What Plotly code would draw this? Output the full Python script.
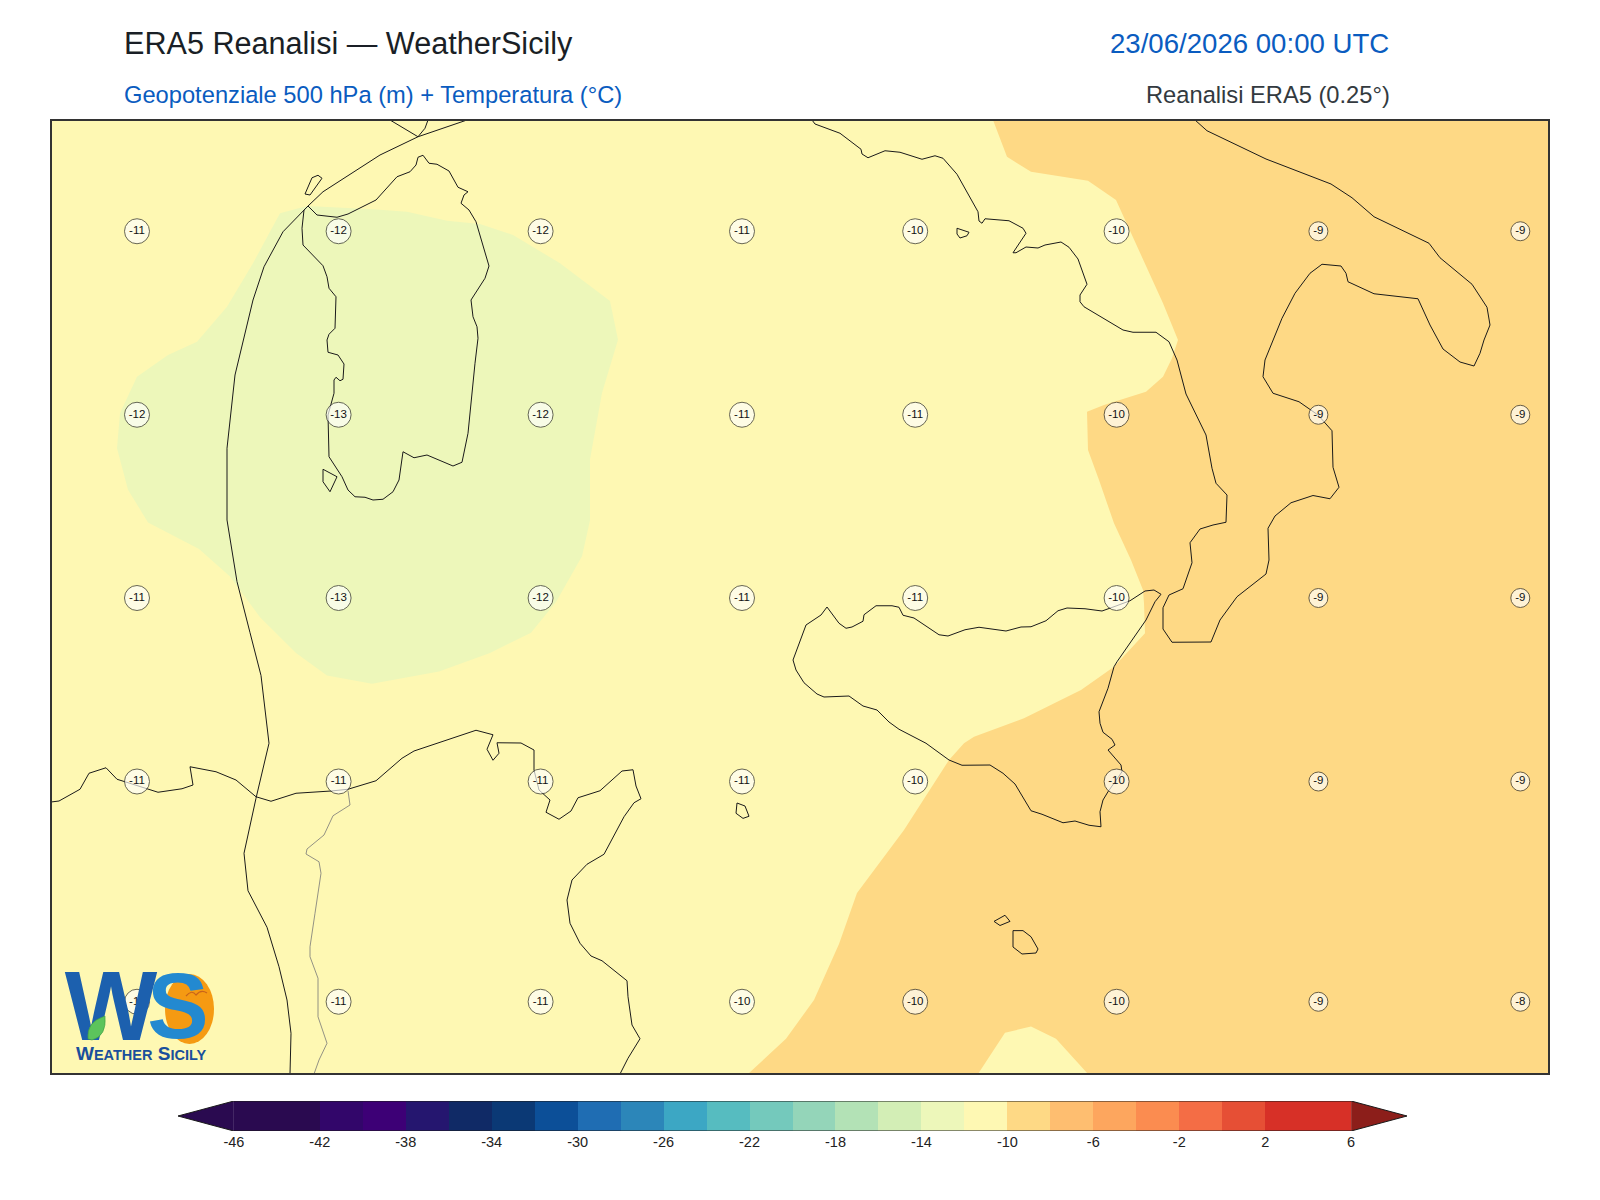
import plotly.graph_objects as go

W, H = 1600, 1200

# map window
lon_min, lon_max = 5.02, 19.98
lat_min, lat_max = 34.416, 42.032

# temperature labels at 500 hPa
label_lons = [5.87, 7.886, 9.906, 11.92, 13.652, 15.666, 17.684, 19.703]
label_lats = [41.15, 39.682, 38.216, 36.748, 34.986]
temps_row1 = [-11, -12, -12, -11, -10, -10, -9, -9]
temps_row2 = [-12, -13, -12, -11, -11, -10, -9, -9]
temps_row3 = [-11, -13, -12, -11, -11, -10, -9, -9]
temps_row4 = [-11, -11, -11, -11, -10, -10, -9, -9]
temps_row5 = [-11, -11, -11, -10, -10, -10, -9, -8]

# colorbar
cbar_levels = list(range(-46, 7, 2))
cbar_ticks = list(range(-46, 7, 4))
cbar_colors = ['#2a0a50', '#2a0a50', '#32066a', '#3d0076', '#25166f', '#102a66', '#0b3975',
               '#0c4f98', '#1f6db3', '#2c86b9', '#3ca7c4', '#56bcc0', '#74c9bc', '#94d5b9',
               '#b3e2b6', '#d3eeb6', '#edf7ba', '#fef8b3', '#fed985', '#febe70', '#fda65e',
               '#fb8c50', '#f46d45', '#e64f35', '#d73027', '#d73027']
cbar_under = '#2a0a50'
cbar_over = '#8c1e1a'

# filled bands
band_14_12_lon = [7.3, 7.57, 8.23, 8.57, 8.97, 9.3, 9.63, 10.1, 10.6, 10.68, 10.52, 10.4, 10.4, 10.32,
                  10.06, 9.81, 9.4, 8.89, 8.22, 7.77, 7.46, 7.1, 6.8, 6.49, 5.98, 5.78, 5.67, 5.7,
                  5.87, 6.18, 6.47, 6.77, 7.03, 7.3]
band_14_12_lat = [41.294, 41.352, 41.326, 41.306, 41.234, 41.208, 41.12, 40.894, 40.592, 40.282, 39.857,
                  39.326, 38.837, 38.551, 38.184, 37.938, 37.776, 37.629, 37.53, 37.596, 37.776, 38.062,
                  38.388, 38.608, 38.821, 39.082, 39.414, 39.694, 39.986, 40.16, 40.266, 40.546, 40.894,
                  41.294]
band_10_8_lon = [14.43, 14.57, 14.81, 15.38, 15.66, 15.96, 16.13, 16.28, 16.22, 16.13, 15.96, 15.54, 15.37,
                 15.38, 15.49, 15.64, 15.81, 15.93, 15.94, 15.95, 15.64, 15.31, 14.98, 14.74, 14.24, 14.14,
                 13.99, 13.54, 13.07, 12.89, 12.64, 12.36, 11.98, 14.28, 14.55, 14.81, 15.06, 15.38, 19.99,
                 19.99, 14.43]
band_10_8_lat = [42.04, 41.746, 41.626, 41.554, 41.4, 40.866, 40.574, 40.28, 40.134, 39.986, 39.866, 39.76,
                 39.706, 39.4, 39.16, 38.814, 38.52, 38.28, 38.174, 37.934, 37.666, 37.48, 37.346, 37.254,
                 37.106, 37.054, 36.92, 36.36, 35.857, 35.449, 35.0, 34.69, 34.408, 34.408, 34.738, 34.788,
                 34.69, 34.408, 34.408, 42.04, 42.04]

# coastlines and borders
sardinia_lon = [7.58, 7.67, 7.87, 7.98, 8.26, 8.47, 8.6, 8.66, 8.68, 8.73, 8.79, 8.87, 8.99, 9.08, 9.18, 9.14,
                9.11, 9.19, 9.26, 9.39, 9.35, 9.21, 9.23, 9.27, 9.28, 9.25, 9.18, 9.12, 9.03, 8.77, 8.64, 8.53,
                8.49, 8.43, 8.33, 8.23, 8.15, 8.05, 7.98, 7.92, 7.79, 7.78, 7.84, 7.84, 7.86, 7.9, 7.93, 7.94,
                7.88, 7.78, 7.77, 7.79, 7.85, 7.86, 7.79, 7.77, 7.73, 7.63, 7.53, 7.52, 7.54, 7.58]
sardinia_lat = [41.352, 41.28, 41.262, 41.288, 41.4, 41.586, 41.626, 41.68, 41.742, 41.758, 41.694, 41.686,
                41.632, 41.502, 41.466, 41.44, 41.374, 41.32, 41.226, 40.872, 40.774, 40.6, 40.466, 40.386,
                40.294, 40.094, 39.534, 39.302, 39.272, 39.36, 39.338, 39.386, 39.16, 39.066, 39.006, 39.0,
                39.022, 39.026, 39.08, 39.186, 39.346, 39.68, 39.854, 39.96, 39.982, 39.954, 39.966, 40.088,
                40.16, 40.182, 40.28, 40.326, 40.374, 40.626, 40.694, 40.786, 40.874, 40.954, 41.04, 41.174,
                41.32, 41.352]
west_line_lon = [9.17, 8.68, 8.3, 7.73, 7.58, 7.33, 7.14, 7.03, 6.85, 6.77, 6.77, 6.87, 7.0, 7.11, 7.19, 7.06,
                 6.94, 6.98, 7.17, 7.29, 7.37, 7.41, 7.4]
west_line_lat = [42.04, 41.906, 41.76, 41.466, 41.352, 41.146, 40.866, 40.6, 40.0, 39.414, 38.84, 38.347,
                 37.939, 37.596, 37.054, 36.614, 36.174, 35.874, 35.582, 35.266, 35.0, 34.734, 34.408]
top_fork_lon = [8.4, 8.68, 8.75, 8.78]
top_fork_lat = [42.04, 41.906, 41.974, 42.04]
capraia_lon = [7.62, 7.68, 7.72, 7.6, 7.55, 7.62]
capraia_lat = [41.578, 41.598, 41.574, 41.44, 41.448, 41.578]
antioco_lon = [7.73, 7.87, 7.8, 7.73, 7.73]
antioco_lat = [39.246, 39.186, 39.066, 39.146, 39.246]
africa_lon = [5.01, 5.09, 5.3, 5.39, 5.56, 5.67, 5.75, 5.99, 6.08, 6.32, 6.43, 6.4, 6.66, 6.86, 7.06, 7.21, 7.46,
              7.81, 7.98, 8.26, 8.52, 8.64, 9.26, 9.43, 9.37, 9.43, 9.49, 9.47, 9.71, 9.84, 9.84, 9.89, 10.0,
              9.96, 10.09, 10.21, 10.28, 10.5, 10.72, 10.83, 10.86, 10.91, 10.84, 10.74, 10.54, 10.37, 10.22,
              10.17, 10.2, 10.3, 10.41, 10.52, 10.77, 10.78, 10.82, 10.9, 10.78, 10.7]
africa_lat = [36.584, 36.592, 36.686, 36.814, 36.858, 36.766, 36.746, 36.686, 36.662, 36.69, 36.72, 36.866,
              36.826, 36.76, 36.626, 36.59, 36.654, 36.672, 36.686, 36.754, 36.934, 36.992, 37.158, 37.122,
              37.006, 36.918, 36.974, 37.058, 37.056, 37.0, 36.84, 36.68, 36.6, 36.502, 36.446, 36.512, 36.618,
              36.674, 36.832, 36.842, 36.712, 36.61, 36.578, 36.466, 36.166, 36.086, 35.96, 35.8, 35.614, 35.454,
              35.352, 35.314, 35.154, 35.026, 34.8, 34.69, 34.534, 34.408]
inner_border_lon = [7.98, 8.0, 7.83, 7.74, 7.57, 7.56, 7.69, 7.71, 7.65, 7.6, 7.6, 7.68, 7.68, 7.77, 7.69, 7.64]
inner_border_lat = [36.674, 36.56, 36.474, 36.32, 36.208, 36.168, 36.106, 36.014, 35.694, 35.426, 35.346,
                    35.174, 34.866, 34.654, 34.52, 34.408]
pantelleria_lon = [11.87, 11.95, 11.99, 11.93, 11.86, 11.87]
pantelleria_lat = [36.576, 36.552, 36.47, 36.453, 36.494, 36.576]
gozo_lon = [14.44, 14.55, 14.6, 14.5, 14.44]
gozo_lat = [35.629, 35.678, 35.629, 35.596, 35.629]
malta_lon = [14.63, 14.73, 14.81, 14.88, 14.86, 14.72, 14.63, 14.63]
malta_lat = [35.555, 35.555, 35.506, 35.408, 35.376, 35.368, 35.424, 35.555]
ponza_lon = [14.07, 14.19, 14.17, 14.1, 14.07, 14.07]
ponza_lat = [41.174, 41.142, 41.114, 41.096, 41.128, 41.174]
italy_lon = [12.62, 12.65, 12.9, 13.11, 13.12, 13.18, 13.35, 13.5, 13.72, 13.85, 13.93, 14.07, 14.28, 14.29, 14.32,
             14.35, 14.59, 14.73, 14.76, 14.63, 14.66, 14.76, 14.88, 14.95, 15.11, 15.19, 15.28, 15.37, 15.3, 15.3,
             15.34, 15.73, 15.83, 16.06, 16.19, 16.27, 16.36, 16.56, 16.62, 16.66, 16.77, 16.76, 16.63, 16.5, 16.4,
             16.42, 16.33, 16.19, 16.13, 16.13, 16.22, 16.61, 16.7, 16.87, 17.16, 17.19, 17.18, 17.25, 17.41, 17.63,
             17.8, 17.89, 17.83, 17.82, 17.68, 17.49, 17.23, 17.13, 17.15, 17.32, 17.45, 17.6, 17.72, 17.91, 17.96,
             17.98, 18.24, 18.68, 18.8, 18.93, 19.1, 19.24, 19.3, 19.34, 19.4, 19.37, 19.22, 18.9, 18.79, 18.24,
             18.02, 17.81, 17.16, 16.57, 16.45]
italy_lat = [42.04, 42.008, 41.934, 41.806, 41.768, 41.738, 41.794, 41.782, 41.726, 41.754, 41.734, 41.606, 41.306,
             41.232, 41.214, 41.25, 41.234, 41.174, 41.134, 40.978, 40.978, 41.024, 41.016, 41.04, 41.064, 41.022,
             40.928, 40.726, 40.64, 40.586, 40.546, 40.36, 40.342, 40.342, 40.266, 40.12, 39.848, 39.52, 39.254,
             39.134, 39.04, 38.822, 38.8, 38.768, 38.658, 38.498, 38.29, 38.24, 38.138, 37.968, 37.862, 37.864,
             38.04, 38.226, 38.408, 38.52, 38.774, 38.872, 38.978, 39.036, 39.01, 39.102, 39.262, 39.554, 39.68,
             39.786, 39.854, 39.986, 40.12, 40.454, 40.654, 40.814, 40.886, 40.872, 40.814, 40.746, 40.65, 40.61,
             40.4, 40.208, 40.104, 40.072, 40.174, 40.28, 40.4, 40.542, 40.726, 40.938, 41.054, 41.266, 41.418,
             41.528, 41.728, 41.954, 42.04]
sicily_lon = [16.11, 16.04, 15.95, 15.8, 15.66, 15.52, 15.35, 15.17, 15.08, 14.96, 14.81, 14.71, 14.56, 14.29, 14.15,
              13.98, 13.89, 13.64, 13.53, 13.49, 13.42, 13.26, 13.14, 13.13, 13.02, 12.96, 12.89, 12.77, 12.71, 12.56,
              12.43, 12.46, 12.54, 12.67, 12.74, 12.99, 13.13, 13.27, 13.39, 13.49, 13.76, 13.99, 14.12, 14.4, 14.53,
              14.65, 14.81, 14.92, 15.13, 15.25, 15.39, 15.51, 15.5, 15.53, 15.58, 15.72, 15.71, 15.58, 15.65, 15.62,
              15.53, 15.5, 15.49, 15.58, 15.64, 15.67, 15.96, 16.05, 16.11]
sicily_lat = [38.246, 38.28, 38.272, 38.194, 38.152, 38.112, 38.13, 38.136, 38.114, 38.034, 37.986, 37.984, 37.952,
              37.982, 37.962, 37.912, 37.922, 38.056, 38.078, 38.142, 38.154, 38.154, 38.082, 38.03, 37.984, 37.974,
              38.014, 38.144, 38.08, 38.0, 37.72, 37.64, 37.538, 37.448, 37.424, 37.432, 37.352, 37.32, 37.224,
              37.166, 37.054, 36.92, 36.878, 36.88, 36.814, 36.728, 36.514, 36.486, 36.418, 36.432, 36.398, 36.386,
              36.506, 36.6, 36.666, 36.826, 36.88, 37.0, 37.04, 37.086, 37.142, 37.214, 37.306, 37.494, 37.666,
              37.706, 38.04, 38.186, 38.246]

coast_lines = [
    (sardinia_lon, sardinia_lat), (west_line_lon, west_line_lat), (top_fork_lon, top_fork_lat),
    (capraia_lon, capraia_lat), (antioco_lon, antioco_lat), (africa_lon, africa_lat),
    (pantelleria_lon, pantelleria_lat), (gozo_lon, gozo_lat), (malta_lon, malta_lat),
    (ponza_lon, ponza_lat), (italy_lon, italy_lat), (sicily_lon, sicily_lat),
]


def px(x):
    return x / W


def py(y):
    return 1 - y / H


fig = go.Figure()

# Bands on top of the pale yellow background
fig.add_trace(go.Scatter(x=band_14_12_lon, y=band_14_12_lat, mode='lines', fill='toself',
                         fillcolor='#edf7ba', line=dict(width=0), hoverinfo='skip'))
fig.add_trace(go.Scatter(x=band_10_8_lon, y=band_10_8_lat, mode='lines', fill='toself',
                         fillcolor='#fed985', line=dict(width=0), hoverinfo='skip'))

# Coasts
for lons, lats in coast_lines:
    fig.add_trace(go.Scatter(x=lons, y=lats, mode='lines', line=dict(color='#1a1a1a', width=1)))
fig.add_trace(go.Scatter(x=inner_border_lon, y=inner_border_lat, mode='lines',
                         line=dict(color='#777777', width=0.8)))

# Temperature circles
rows = [temps_row1, temps_row2, temps_row3, temps_row4, temps_row5]
for lat, row in zip(label_lats, rows):
    fig.add_trace(go.Scatter(
        x=label_lons,
        y=[lat] * len(row),
        mode='markers+text',
        text=[str(t) for t in row],
        textposition='middle center',
        textfont=dict(family='Liberation Sans', size=11.5, color='#111111'),
        marker=dict(size=[25 if t <= -10 else 19 for t in row],
                    color='rgba(255,255,255,0.94)', line=dict(color='#2a2a2a', width=1)),
    ))

# Logo letters sit over the map as plain text
fig.add_trace(go.Scatter(x=[5.61], y=[34.879], mode='text', text=['<b>W</b>'], textposition='middle center',
                         textfont=dict(family='Liberation Sans', size=98, color='#1c60ae')))
fig.add_trace(go.Scatter(x=[6.28], y=[34.879], mode='text', text=['<b>S</b>'], textposition='middle center',
                         textfont=dict(family='Liberation Sans', size=92, color='#2389d0')))

# Colorbar
centers = [(a + b) / 2 for a, b in zip(cbar_levels[:-1], cbar_levels[1:])]
fig.add_trace(go.Bar(x=centers, y=[1] * len(centers), width=2, marker=dict(color=cbar_colors, line=dict(width=0)),
                     xaxis='x2', yaxis='y2'))
ext = 2.6
low, high = cbar_levels[0], cbar_levels[-1]
fig.add_trace(go.Scatter(x=[low - ext, low, low, low - ext], y=[0.5, 1, 0, 0.5], mode='lines', fill='toself',
                         fillcolor=cbar_under, line=dict(width=0), xaxis='x2', yaxis='y2'))
fig.add_trace(go.Scatter(x=[high + ext, high, high, high + ext], y=[0.5, 1, 0, 0.5], mode='lines', fill='toself',
                         fillcolor=cbar_over, line=dict(width=0), xaxis='x2', yaxis='y2'))
fig.add_trace(go.Scatter(x=[low - ext, low, high, high + ext, high, low, low - ext],
                         y=[0.5, 1, 1, 0.5, 0, 0, 0.5], mode='lines',
                         line=dict(color='#1a1a1a', width=1), xaxis='x2', yaxis='y2'))

fig.update_layout(
    width=W,
    height=H,
    margin=dict(l=0, r=0, t=0, b=0),
    showlegend=False,
    paper_bgcolor='white',
    plot_bgcolor='white',
    font=dict(family='Liberation Sans'),
    bargap=0,
    xaxis=dict(domain=[px(52), px(1548)], range=[lon_min, lon_max], showgrid=False, zeroline=False,
               showticklabels=False, ticks='', showline=True, mirror=True, linecolor='#333333', linewidth=1.5),
    yaxis=dict(domain=[py(1073), py(121)], range=[lat_min, lat_max], showgrid=False, zeroline=False,
               showticklabels=False, ticks='', showline=True, mirror=True, linecolor='#333333', linewidth=1.5),
    xaxis2=dict(domain=[px(178), px(1407)], range=[low - ext, high + ext], anchor='y2', showgrid=False,
                zeroline=False, tickmode='array', tickvals=cbar_ticks, ticktext=[str(t) for t in cbar_ticks],
                ticks='', tickfont=dict(size=14.5, color='#222222'), showline=False),
    yaxis2=dict(domain=[py(1131), py(1101)], range=[0, 1], anchor='x2', showgrid=False, zeroline=False,
                showticklabels=False, ticks='', showline=False),
)

# Map background: the -12/-10 band
fig.add_shape(type='rect', xref='x', yref='y', x0=lon_min, x1=lon_max, y0=lat_min, y1=lat_max,
              fillcolor='#fef8b3', line=dict(width=0), layer='below')

# Header text
header = [
    ('ERA5 Reanalisi — WeatherSicily', 122, 44, 30.6, '#1a1f26', 'left'),
    ('23/06/2026 00:00 UTC', 1391, 44, 27.6, '#0a5cc0', 'right'),
    ('Geopotenziale 500 hPa (m) + Temperatura (°C)', 122, 95, 23.7, '#0a5cc0', 'left'),
    ('Reanalisi ERA5 (0.25°)', 1392, 95, 23.7, '#333a40', 'right'),
]
for text, x, y, size, color, anchor in header:
    fig.add_annotation(xref='paper', yref='paper', x=px(x), y=py(y), text=text, showarrow=False,
                       xanchor=anchor, yanchor='middle', font=dict(size=size, color=color))

# Rest of the logo
fig.add_shape(type='circle', xref='x', yref='y', x0=6.15, x1=6.64, y0=35.208, y1=34.648,
              fillcolor='#f59a12', line=dict(width=0), layer='below')
fig.add_shape(type='path', xref='paper', yref='paper', line=dict(color='#c8641a', width=1.2), layer='above',
              path=f'M {px(186)} {py(996)} Q {px(192)} {py(989)} {px(196)} {py(995)} Q {px(201)} {py(989)} {px(207)} {py(993)}')
fig.add_shape(type='path', xref='paper', yref='paper', fillcolor='#5cc45c', line=dict(color='#3f9a3f', width=0.6),
              layer='above',
              path=f'M {px(88)} {py(1039)} Q {px(86)} {py(1022)} {px(105)} {py(1016)} Q {px(107)} {py(1036)} {px(92)} {py(1040)} Z')
fig.add_annotation(xref='paper', yref='paper', x=px(141), y=py(1053),
                   text='<b>W<span style="font-size:14.5px">EATHER</span> S<span style="font-size:14.5px">ICILY</span></b>',
                   showarrow=False, font=dict(size=19, color='#1a4f9c'), xanchor='center', yanchor='middle')

fig.write_html("out.html", config={'displayModeBar': False}, post_script="document.body.style.margin='0';")
